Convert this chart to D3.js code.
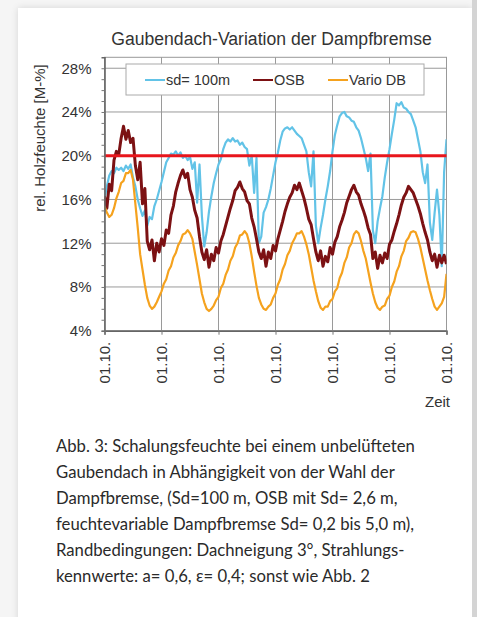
<!DOCTYPE html>
<html>
<head>
<meta charset="utf-8">
<script src="https://cdn.jsdelivr.net/npm/d3@7"></script>
<style>
body{margin:0;background:#f5f5f5;width:477px;height:617px;overflow:hidden;position:relative;}
#card{position:absolute;left:18px;top:8px;width:454px;height:640px;background:#fff;box-shadow:0 0 7px rgba(0,0,0,0.13);}
#strip{position:absolute;left:472px;top:0;width:5px;height:617px;background:#d4d4d4;}
svg{position:absolute;left:0;top:0;}
</style>
</head>
<body>
<div id="card"></div><div id="strip"></div>
<svg width="477" height="617"></svg>
<script>
var title = "Gaubendach-Variation der Dampfbremse";
var yLabel = "rel. Holzfeuchte [M-%]";
var xLabel = "Zeit";
var seriesNames = ["sd= 100m", "OSB", "Vario DB"];
var seriesColors = ["#62c3e7", "#7c1113", "#f5a21e"];
var limitValue = 20;

// half-month steps over six years, starting 01.10.
var months = d3.range(0, 72.5, 0.5);

var sd100 = [
	16.0, 17.2, 18.2, 18.6, 18.4, 18.9, 18.7, 18.9, 18.6, 19.1, 18.8, 19.2,
	18.0, 17.2, 16.0, 15.2, 14.5, 15.0, 13.6, 14.4, 14.2, 15.4, 16.0, 16.8,
	17.6, 18.5, 19.4, 19.8, 20.2, 20.1, 20.4, 20.0, 20.3, 19.8, 20.0, 19.6,
	19.9, 18.8, 19.4, 15.7, 19.2, 14.5, 11.7, 13.0, 14.9, 16.3, 17.5, 18.4,
	19.2, 19.7, 20.6, 21.2, 21.5, 21.3, 21.6, 21.3, 21.4, 21.0, 21.2, 20.8,
	20.6, 19.1, 20.0, 16.6, 19.8, 12.0, 12.6, 14.8, 15.3, 16.0, 17.0, 18.2,
	19.4, 20.3, 21.4, 22.2, 22.5, 22.6, 22.4, 22.6, 22.3, 22.0, 21.8, 21.6,
	21.0, 20.4, 18.5, 17.2, 20.4, 13.6, 12.0, 13.4, 14.6, 16.0, 17.2, 18.6,
	20.4, 21.9, 22.8, 23.6, 23.9, 24.0, 23.6, 23.5, 23.2, 23.1, 22.6, 22.3,
	21.6, 20.7, 19.8, 18.6, 20.2, 13.2, 12.0, 14.0, 15.2, 16.3, 18.0, 19.4,
	20.6, 22.0, 23.3, 24.8, 24.6, 24.9, 24.4, 24.3, 24.0, 23.8, 23.2, 22.6,
	21.5, 20.4, 18.5, 17.5, 19.2, 13.9, 12.3, 14.8, 16.9, 14.6, 9.9, 18.5,
	21.5
];

var osb = [
	16.3, 15.2, 17.4, 16.8, 19.6, 20.4, 20.1, 21.6, 22.7, 21.5, 22.3, 21.2,
	21.6, 19.1, 17.8, 19.4, 15.6, 17.0, 12.2, 11.4, 12.3, 10.4, 12.0, 11.2,
	12.4, 11.8, 13.2, 12.9, 14.6, 15.4, 16.7, 17.5, 18.2, 18.7, 18.0, 18.4,
	16.9, 16.2, 15.0, 14.3, 12.6, 11.2, 10.5, 11.4, 9.8, 11.0, 10.4, 11.6,
	11.1, 12.2, 12.8, 13.6, 14.4, 15.2, 15.9, 16.8, 17.1, 17.6, 17.0, 16.7,
	15.9, 15.6, 14.3, 13.5, 12.4, 11.2, 10.6, 11.4, 9.9, 11.2, 10.6, 11.8,
	11.3, 12.4, 13.2, 14.0, 14.9, 15.6, 16.2, 16.6, 17.3, 16.9, 17.5, 16.8,
	16.1, 15.2, 14.2, 13.7, 12.4, 11.2, 10.4, 11.3, 9.9, 10.8, 10.3, 11.6,
	11.0, 12.1, 12.6, 13.5, 14.1, 14.8, 15.7, 16.3, 16.9, 17.3, 16.7, 16.4,
	15.6, 15.0, 14.3, 13.4, 12.8, 10.6, 11.2, 9.7, 10.9, 10.2, 11.1, 10.6,
	11.9, 12.3, 13.1, 13.8, 14.6, 15.5, 16.2, 16.6, 17.2, 16.9, 16.6, 16.0,
	15.4, 14.7, 13.8, 13.0, 12.3, 11.2, 10.4, 11.0, 9.8, 10.9, 10.2, 10.9,
	10.1
];

var varioDb = [
	15.4, 14.8, 14.4, 14.6, 15.2, 16.1, 16.7, 17.5, 17.7, 18.4, 18.4, 18.7,
	17.8, 15.6, 13.4, 11.0, 9.6, 8.2, 7.0, 6.3, 6.0, 6.2, 6.6, 7.1,
	7.6, 8.3, 8.7, 9.5, 9.9, 10.7, 11.1, 11.8, 12.2, 12.8, 12.9, 13.2,
	12.9, 12.4, 11.2, 10.0, 8.7, 7.4, 6.6, 6.0, 5.8, 6.0, 6.3, 6.8,
	7.1, 7.9, 8.3, 9.1, 9.6, 10.4, 10.8, 11.6, 12.0, 12.7, 12.8, 13.1,
	12.8, 12.0, 10.8, 9.4, 8.1, 7.0, 6.4, 6.0, 5.9, 6.2, 6.4, 7.0,
	7.4, 8.2, 8.7, 9.6, 10.1, 10.9, 11.3, 12.0, 12.4, 12.9, 12.9, 13.1,
	12.6, 11.9, 11.0, 9.8, 8.6, 7.6, 6.7, 6.1, 5.9, 6.2, 6.2, 6.7,
	6.9, 7.6, 7.9, 8.8, 9.3, 10.2, 10.7, 11.6, 12.0, 12.8, 13.1, 12.9,
	12.2, 11.3, 10.6, 9.5, 8.4, 7.4, 6.6, 6.1, 5.9, 6.2, 6.3, 6.9,
	7.2, 8.0, 8.5, 9.4, 9.9, 10.8, 11.3, 12.2, 12.5, 13.0, 13.1, 13.0,
	12.4, 11.6, 10.6, 9.6, 8.6, 7.7, 6.9, 6.2, 5.9, 6.2, 6.5, 7.1,
	9.2
];

var yTicks = [4, 8, 12, 16, 20, 24, 28];
var xTicks = [0, 12, 24, 36, 48, 60, 72];
var xTickLabels = ["01.10.", "01.10.", "01.10.", "01.10.", "01.10.", "01.10.", "01.10."];

var caption = [
	"Abb. 3: Schalungsfeuchte bei einem unbelüfteten",
	"Gaubendach in Abhängigkeit von der Wahl der",
	"Dampfbremse, (Sd=100 m, OSB mit Sd= 2,6 m,",
	"feuchtevariable Dampfbremse Sd= 0,2 bis 5,0 m),",
	"Randbedingungen: Dachneigung 3°, Strahlungs-",
	"kennwerte: a= 0,6, ε= 0,4; sonst wie Abb. 2"
];

var svg = d3.select("svg");
var font = "'Liberation Sans', Arial, sans-serif";
var ink = "#333";

var plotL = 104.5, plotR = 446.5, plotT = 57.3, plotB = 330.7;
var x = d3.scaleLinear().domain([0, 72]).range([plotL, plotR]);
var y = d3.scaleLinear().domain([4, 29]).range([plotB, plotT]);

// grid
svg.append("g").selectAll("line").data(yTicks).enter().append("line")
	.attr("x1", plotL).attr("x2", plotR)
	.attr("y1", function(d){return y(d)}).attr("y2", function(d){return y(d)})
	.style("stroke", "#9a9a9a").style("stroke-width", 1);
svg.append("g").selectAll("line").data(xTicks).enter().append("line")
	.attr("y1", plotT).attr("y2", plotB)
	.attr("x1", function(d){return x(d)}).attr("x2", function(d){return x(d)})
	.style("stroke", "#9a9a9a").style("stroke-width", 1);
svg.append("rect").attr("x", plotL).attr("y", plotT)
	.attr("width", plotR - plotL).attr("height", plotB - plotT)
	.style("fill", "none").style("stroke", "#999").style("stroke-width", 1);

// legend box sits on top of the grid
svg.append("rect").attr("x", 126).attr("y", 64).attr("width", 298).attr("height", 31)
	.style("fill", "#fff").style("stroke", "#aaa").style("stroke-width", 1);
var legendX = [145, 253, 328];
var legend = svg.append("g").selectAll("g").data(seriesNames).enter().append("g")
	.attr("transform", function(d, i){return "translate(" + legendX[i] + ",80)"});
legend.append("line").attr("x1", 0).attr("x2", 20)
	.style("stroke", function(d, i){return seriesColors[i]}).style("stroke-width", 2);
legend.append("text").attr("x", 21).attr("dy", "0.35em").text(function(d){return d})
	.style("font-family", font).style("font-size", "14.5px").style("fill", ink);

// series
svg.append("clipPath").attr("id", "plot").append("rect")
	.attr("x", plotL).attr("y", plotT).attr("width", plotR - plotL).attr("height", plotB - plotT);
var line = d3.line()
	.x(function(d, i){return x(months[i])})
	.y(function(d){return y(d)});
var series = [sd100, osb, varioDb];
var widths = [2.2, 3, 2.2];
svg.append("g").attr("clip-path", "url(#plot)").selectAll("path").data(series).enter().append("path")
	.attr("d", line)
	.style("fill", "none")
	.style("stroke", function(d, i){return seriesColors[i]})
	.style("stroke-width", function(d, i){return widths[i]})
	.style("stroke-linejoin", "round");
svg.append("line").attr("x1", plotL).attr("x2", plotR)
	.attr("y1", y(limitValue)).attr("y2", y(limitValue))
	.style("stroke", "#e8161c").style("stroke-width", 3);

// axes
var yAxis = svg.append("g").attr("transform", "translate(" + plotL + ",0)")
	.call(d3.axisLeft(y).tickValues(d3.range(4, 29, 1)).tickSize(3).tickPadding(10)
		.tickFormat(function(d){return yTicks.indexOf(d) >= 0 ? d + "%" : ""}));
var xAxis = svg.append("g").attr("transform", "translate(0," + plotB + ")")
	.call(d3.axisBottom(x).tickValues(xTicks).tickSize(4)
		.tickFormat(function(d, i){return xTickLabels[i]}));
[yAxis, xAxis].forEach(function(a){
	a.select(".domain").style("stroke", "#666").style("stroke-width", 1.6);
	a.selectAll(".tick line").style("stroke", "#777");
	a.selectAll("text").style("font-family", font).style("font-size", "15px").style("fill", ink);
});
xAxis.selectAll("text")
	.attr("transform", "rotate(-90)")
	.attr("x", -11).attr("y", 0).attr("dy", "0.36em")
	.style("text-anchor", "end");

// titles
svg.append("text").attr("x", 271.5).attr("y", 45).attr("text-anchor", "middle").text(title)
	.style("font-family", font).style("font-size", "17.6px").style("fill", ink);
svg.append("text").attr("transform", "translate(40,138) rotate(-90)").attr("dy", "0.35em")
	.attr("text-anchor", "middle").text(yLabel)
	.style("font-family", font).style("font-size", "15px").style("fill", ink);
svg.append("text").attr("x", 450).attr("y", 407).attr("text-anchor", "end").text(xLabel)
	.style("font-family", font).style("font-size", "15px").style("fill", ink);

// caption, sized so the first line spans the same width as in the print
var cap = svg.append("g").selectAll("text").data(caption).enter().append("text")
	.attr("x", 56).attr("y", function(d, i){return 451.5 + i * 26})
	.text(function(d){return d})
	.style("font-family", "Lato, 'Noto Sans', sans-serif").style("font-size", "16px").style("fill", "#2a2a2a");
var w0 = cap.node().getComputedTextLength();
cap.style("font-size", (16 * 359 / w0).toFixed(2) + "px");
</script>
</body>
</html>
